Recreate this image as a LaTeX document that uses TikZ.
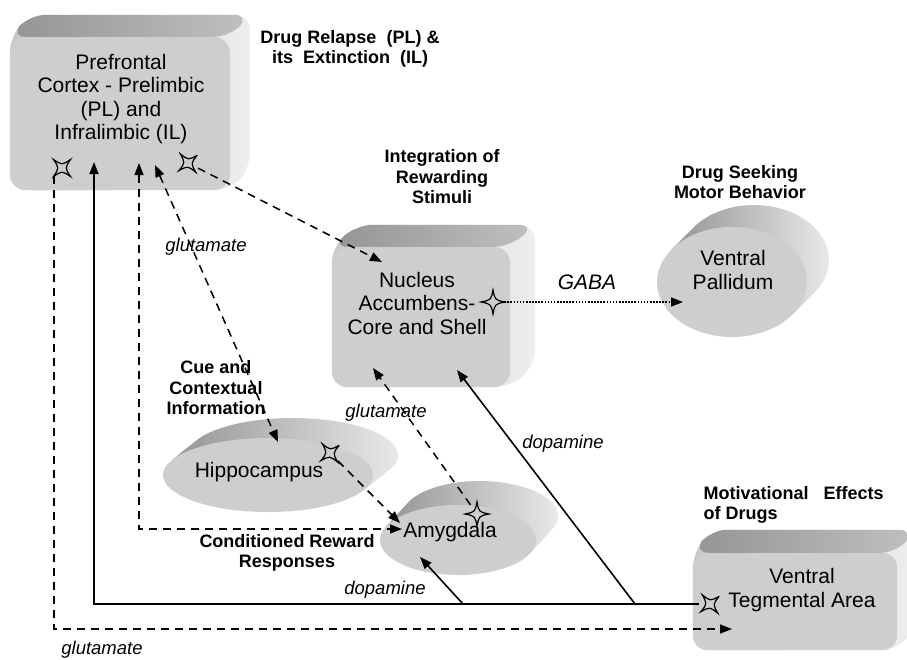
\documentclass[tikz,border=0pt]{standalone}
\usepackage{fontspec}
\setmainfont{Liberation Sans}
\usepackage{tikz}
\usetikzlibrary{shapes, arrows.meta, positioning, calc, backgrounds}
\usepackage{xcolor}
\definecolor{FaceColor}{RGB}{206, 206, 206}
\definecolor{TopDark}{RGB}{148, 148, 148}
\definecolor{TopLight}{RGB}{192, 192, 192}
\definecolor{SideDark}{RGB}{200, 200, 200}
\definecolor{SideLight}{RGB}{238, 238, 238}

\tikzset{
    regionface/.style={fill=FaceColor, draw=none, inner sep=0pt},
    boxface/.style={regionface, rectangle, rounded corners=16pt},
    discface/.style={regionface, ellipse},
    boxtop/.style={left color=TopDark, right color=TopLight},
    boxside/.style={left color=SideDark, right color=SideLight},
    discside/.style={left color=TopDark, right color=SideLight},
    regiontext/.style={align=center, font=\fontsize{21}{23.5}\selectfont},
    roletext/.style={align=center, font=\bfseries\fontsize{18}{20.5}\selectfont},
    transmitter/.style={font=\itshape\fontsize{18.5}{20}\selectfont},
    synapse/.style={circle, minimum size=22pt, inner sep=0pt},
    astroid/.pic={\draw[line width=1.2pt] (12,0) .. controls (2,2) .. (0,12) .. controls (-2,2) .. (-12,0) .. controls (-2,-2) .. (0,-12) .. controls (2,-2) .. cycle;},
    glu/.style={->, line width=1.5pt, dash pattern=on 8pt off 6pt},
    dopa/.style={->, line width=1.6pt},
    gaba/.style={->, line width=1.6pt, dash pattern=on 1.6pt off 1.5pt},
}

% extrusion behind a box node: node, dx, dy
\newcommand{\boxdepth}[3]{%
    \begin{scope}[on background layer, x=1pt, y=1pt, rounded corners=16pt]
        \shade[boxside] (#1.south west) -- (#1.north west) -- ++(#2,#3) -| ([shift={(#2,#3)}]#1.south east) -- (#1.south east) -- cycle;
        \shade[boxtop] (#1.north west) -- ++(#2,#3) -- ([shift={(#2,#3)}]#1.north east) -- (#1.north east) -- cycle;
    \end{scope}}

% extrusion behind a disc node: node, x radius, y radius, dx, dy
\newcommand{\discdepth}[5]{%
    \begin{scope}[on background layer, x=1pt, y=1pt]
        \pgfmathsetmacro{\tz}{atan2(-#3*#4, #2*#5)}
        \shade[discside] ([shift={({#2*cos(\tz)},{#3*sin(\tz)})}]#1.center) -- ++(#4,#5)
            arc[start angle=\tz, end angle=\tz+180, x radius=#2, y radius=#3] -- ++(-#4,-#5) -- cycle;
    \end{scope}}

\begin{document}
\begin{tikzpicture}[x=1pt, y=-1pt, >={Triangle[length=12pt, width=9pt]}]
    \useasboundingbox (0,0) rectangle (907,659);

    % regions
    \node[boxface, minimum width=220pt, minimum height=153pt] (pfc) at (120,113.5) {};
    \node[boxface, minimum width=178pt, minimum height=140pt] (nac) at (421,317) {};
    \node[boxface, minimum width=204pt, minimum height=97pt, rounded corners=14pt] (vta) at (795,601.5) {};
    \node[discface, minimum width=150pt, minimum height=110pt] (vp) at (732,282) {};
    \node[discface, minimum width=210pt, minimum height=74pt] (hip) at (268,475) {};
    \node[discface, minimum width=156pt, minimum height=70pt] (amy) at (458,540) {};

    \boxdepth{pfc}{20}{22}
    \boxdepth{nac}{25}{22}
    \boxdepth{vta}{18}{23}
    \discdepth{vp}{75}{55}{22}{22}
    \discdepth{hip}{105}{37}{25}{20}
    \discdepth{amy}{78}{35}{22}{24}

    \node[regiontext] (pfc-txt) at (121,99) {Prefrontal\\Cortex - Prelimbic\\(PL) and\\Infralimbic (IL)};
    \node[regiontext] (nac-txt) at (417,303) {Nucleus\\Accumbens-\\Core and Shell};
    \node[regiontext] (vta-txt) at (802,590) {Ventral\\Tegmental Area};
    \node[regiontext] (vp-txt) at (733,270) {Ventral\\Pallidum};
    \node[regiontext] (hip-txt) at (259,472) {Hippocampus};
    \node[regiontext] (amy-txt) at (450,532) {Amygdala};

    % roles
    \node[roletext] (relapse-lbl) at (350,49) {Drug Relapse\ \ (PL) \&\\its\ \ Extinction\ \ (IL)};
    \node[roletext] (reward-lbl) at (442,177) {Integration of\\Rewarding\\Stimuli};
    \node[roletext] (seeking-lbl) at (740,182) {Drug Seeking\\Motor Behavior};
    \node[roletext] (cue-lbl) at (216,388) {Cue and\\Contextual\\Information};
    \node[roletext] (cond-lbl) at (287,553) {Conditioned Reward\\Responses};
    \node[roletext, align=left, anchor=west] (motiv-lbl) at (700,505) {Motivational\ \ \ Effects\\of Drugs};

    % synapses
    \node[synapse] (pfc-syn1) at (62,168) {};
    \node[synapse] (pfc-syn2) at (188,163) {};
    \node[synapse] (nac-syn) at (493,302) {};
    \node[synapse] (hip-syn) at (330,453) {};
    \node[synapse] (amy-syn) at (477,514) {};
    \node[synapse] (vta-syn) at (710,604) {};
    \foreach \s/\r in {pfc-syn1/45, pfc-syn2/40, nac-syn/0, hip-syn/40, amy-syn/0, vta-syn/40}
        \pic[rotate=\r] at (\s) {astroid};

    % arrow ends
    \coordinate (pfc-in1) at (94,162);
    \coordinate (pfc-in2) at (139,163);
    \coordinate (pfc-in3) at (155,165);
    \coordinate (nac-in1) at (382,262);
    \coordinate (nac-in2) at (373,368);
    \coordinate (nac-in3) at (457,370);
    \coordinate (vp-in) at (683,302);
    \coordinate (hip-in) at (278,442);
    \coordinate (amy-in1) at (402,529);
    \coordinate (amy-in2) at (400,523);
    \coordinate (amy-in3) at (420,557);
    \coordinate (vta-in) at (732,629);
    \coordinate (fork1) at (463,604);
    \coordinate (fork2) at (635,604);

    % pathways
    \draw[glu] (pfc-syn1.south west) |- (vta-in);
    \draw[dopa] (vta-syn.west) -| (pfc-in1);
    \draw[dopa] (fork1) -- (amy-in3);
    \draw[dopa] (fork2) -- (nac-in3);
    \draw[glu, <->] (pfc-in2) |- (amy-in1);
    \draw[glu, <->] (pfc-in3) -- (hip-in);
    \draw[glu] (pfc-syn2) -- (nac-in1);
    \draw[gaba] (nac-syn.east) -- (vp-in);
    \draw[glu] (hip-syn) -- (amy-in2);
    \draw[glu] (amy-syn) -- (nac-in2);

    \node[transmitter] (glu-lbl1) at (206,247) {glutamate};
    \node[transmitter] (glu-lbl2) at (386,413) {glutamate};
    \node[transmitter] (glu-lbl3) at (102,650) {glutamate};
    \node[transmitter, font=\itshape\fontsize{21}{24}\selectfont] (gaba-lbl) at (587,282) {GABA};
    \node[transmitter] (dopa-lbl1) at (385,590) {dopamine};
    \node[transmitter] (dopa-lbl2) at (563,444) {dopamine};
\end{tikzpicture}
\end{document}
